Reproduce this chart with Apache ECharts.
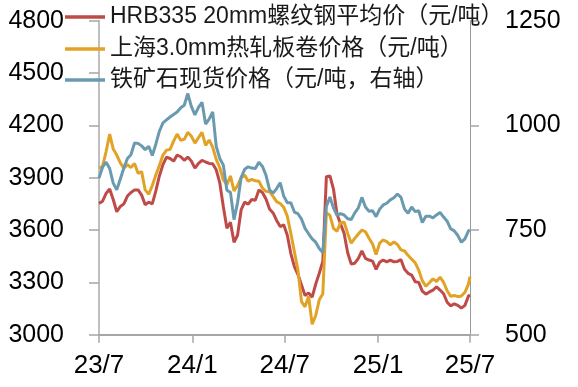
<!DOCTYPE html>
<html><head><meta charset="utf-8">
<script src="https://cdn.jsdelivr.net/npm/echarts@6/dist/echarts.min.js"></script>
<style>html,body{margin:0;padding:0;background:#fff}#c{width:578px;height:387px}</style>
</head><body><div id="c"></div>
<script>
const seriesNames = ['HRB335 20mm螺纹钢平均价（元/吨）','上海3.0mm热轧板卷价格（元/吨）','铁矿石现货价格（元/吨，右轴）'];
const tickDates = ['2023-07-01','2024-01-01','2024-07-01','2025-01-01','2025-07-01'];
const tickLabels = ['23/7','24/1','24/7','25/1','25/7'];
const leftTicks = {min:3000,max:4800,interval:300};
const rightTicks = {min:500,max:1250,interval:250};
const dates = [
'2023-07-01','2023-07-08','2023-07-15','2023-07-22','2023-07-29','2023-08-05','2023-08-12','2023-08-19','2023-08-26','2023-09-02',
'2023-09-09','2023-09-16','2023-09-23','2023-09-30','2023-10-07','2023-10-14','2023-10-21','2023-10-28','2023-11-04','2023-11-11',
'2023-11-18','2023-11-25','2023-12-02','2023-12-09','2023-12-16','2023-12-23','2023-12-30',
'2024-01-06','2024-01-13','2024-01-20','2024-01-27','2024-02-03','2024-02-10','2024-02-17','2024-02-24','2024-03-02','2024-03-09',
'2024-03-16','2024-03-23','2024-03-30','2024-04-06','2024-04-13','2024-04-20','2024-04-27','2024-05-04','2024-05-11','2024-05-18',
'2024-05-25','2024-06-01','2024-06-08','2024-06-15','2024-06-22','2024-06-29','2024-07-06','2024-07-13','2024-07-20','2024-07-27',
'2024-08-03','2024-08-10','2024-08-17','2024-08-24','2024-08-31','2024-09-07','2024-09-14','2024-09-21','2024-09-28','2024-10-05',
'2024-10-12','2024-10-19','2024-10-26','2024-11-02','2024-11-09','2024-11-16','2024-11-23','2024-11-30','2024-12-07','2024-12-14',
'2024-12-21','2024-12-28',
'2025-01-04','2025-01-11','2025-01-18','2025-01-25','2025-02-01','2025-02-08','2025-02-15','2025-02-22','2025-03-01','2025-03-08',
'2025-03-15','2025-03-22','2025-03-29','2025-04-05','2025-04-12','2025-04-19','2025-04-26','2025-05-03','2025-05-10','2025-05-17',
'2025-05-24','2025-05-31','2025-06-07','2025-06-14','2025-06-21','2025-06-28','2025-07-01'];
const rebar = [
3753,3765,3810,3835,3775,3705,3735,3750,3795,3815,
3830,3830,3800,3745,3760,3750,3825,3910,3975,4018,
4010,3995,4030,4020,4000,4018,3995,3955,3982,4000,
3990,3982,3980,3945,3870,3734,3610,3645,3530,3570,
3715,3760,3748,3775,3770,3830,3815,3778,3720,3698,
3655,3620,3630,3570,3465,3390,3345,3285,3225,3240,
3215,3290,3352,3420,3906,3910,3835,3690,3635,3580,
3470,3405,3410,3437,3480,3437,3428,3422,3375,3415,
3428,3418,3428,3418,3420,3430,3375,3352,3342,3304,
3300,3250,3232,3245,3255,3275,3256,3235,3186,3165,
3177,3168,3152,3168,3222,3228];
const hotRolled = [
3954,3965,4050,4150,4065,4030,3985,3955,3975,3958,
3982,3925,3935,3830,3805,3855,3915,3970,4030,4058,
4062,4110,4150,4115,4120,4160,4138,4098,4130,4160,
4085,4116,4075,4005,3957,3887,3860,3910,3825,3855,
3900,3915,3880,3890,3882,3880,3840,3822,3820,3793,
3763,3752,3730,3680,3580,3475,3370,3190,3160,3220,
3060,3110,3200,3235,3700,3684,3610,3593,3643,3645,
3580,3525,3552,3577,3600,3590,3553,3520,3460,3525,
3543,3533,3515,3532,3517,3486,3480,3455,3433,3412,
3370,3310,3278,3298,3320,3305,3330,3300,3252,3220,
3225,3218,3222,3243,3290,3333];
const ironOre = [
874,900,912,897,862,846,872,898,921,930,
958,957,951,942,950,928,955,986,1006,1013,
1020,1026,1032,1042,1048,1076,1045,1025,1043,1055,
1003,1015,1032,950,921,905,845,840,775,815,
875,895,901,898,897,912,902,881,846,838,
849,863,831,815,815,793,789,776,754,741,
729,721,706,696,806,829,803,785,789,786,
777,775,791,803,828,805,795,796,782,800,
810,814,822,827,836,828,800,790,805,794,
796,768,783,783,779,786,792,781,771,753,
748,737,721,729,748,750];

function ts(s){const p=s.split('-').map(Number);return Date.UTC(p[0],p[1]-1,p[2]);}
const tickTs = tickDates.map(ts);
function pairs(vals){return dates.map((d,i)=>[ts(d),vals[i]]);}

const colors = ['#BE4B48','#E2A226','#6A9AAF'];
const FONT = "'Liberation Sans', Arial, 'Noto Sans CJK SC', sans-serif";
const legendRowTops = [5,37,68];
const plain = v => String(v);

const chart = echarts.init(document.getElementById('c'), null, {renderer:'canvas'});
const legends = seriesNames.map((n,i)=>({
  data:[n], left:65, top:legendRowTops[i], padding:0, orient:'horizontal',
  itemWidth:40, itemHeight:3.5, icon:'rect', itemGap:5, selectedMode:false,
  textStyle:{fontSize:23, color:'#1a1a1a', fontFamily:FONT, lineHeight:24}
}));
chart.setOption({
  animation:false,
  backgroundColor:'#fff',
  color:colors,
  legend:legends,
  grid:{left:99,right:108,top:20.7,bottom:52.3,containLabel:false,outerBoundsMode:'none'},
  xAxis:{
    type:'value', min:tickTs[0], max:tickTs[tickTs.length-1],
    splitLine:{show:false},
    axisLine:{show:true,onZero:false,lineStyle:{color:'#A6A6A6',width:2}},
    axisTick:{show:true,customValues:tickTs,length:8,inside:false,lineStyle:{color:'#A6A6A6',width:1.5}},
    axisLabel:{customValues:tickTs,margin:18,fontSize:26,color:'#000',fontFamily:FONT,showMinLabel:true,showMaxLabel:true,
      formatter:function(v){const i=tickTs.indexOf(v);return i>=0?tickLabels[i]:'';}}
  },
  yAxis:[{
    type:'value', min:leftTicks.min, max:leftTicks.max, interval:leftTicks.interval, position:'left',
    splitLine:{show:false},
    axisLine:{show:true,lineStyle:{color:'#BFBFBF',width:2}},
    axisTick:{show:true,length:10,lineStyle:{color:'#A6A6A6',width:1.5}},
    axisLabel:{margin:35,fontSize:25,color:'#000',fontFamily:FONT,formatter:plain}
  },{
    type:'value', min:rightTicks.min, max:rightTicks.max, interval:rightTicks.interval, position:'right',
    splitLine:{show:false},
    axisLine:{show:true,lineStyle:{color:'#999',width:1}},
    axisTick:{show:true,length:9,lineStyle:{color:'#A6A6A6',width:1.5}},
    axisLabel:{margin:35,fontSize:25,color:'#000',fontFamily:FONT,formatter:plain}
  }],
  series:[
    {name:seriesNames[0],type:'line',yAxisIndex:0,data:pairs(rebar),showSymbol:false,symbol:'none',lineStyle:{width:3,color:colors[0]},itemStyle:{color:colors[0]}},
    {name:seriesNames[1],type:'line',yAxisIndex:0,data:pairs(hotRolled),showSymbol:false,symbol:'none',lineStyle:{width:3,color:colors[1]},itemStyle:{color:colors[1]}},
    {name:seriesNames[2],type:'line',yAxisIndex:1,data:pairs(ironOre),showSymbol:false,symbol:'none',lineStyle:{width:3,color:colors[2]},itemStyle:{color:colors[2]}}
  ]
});
</script></body></html>
